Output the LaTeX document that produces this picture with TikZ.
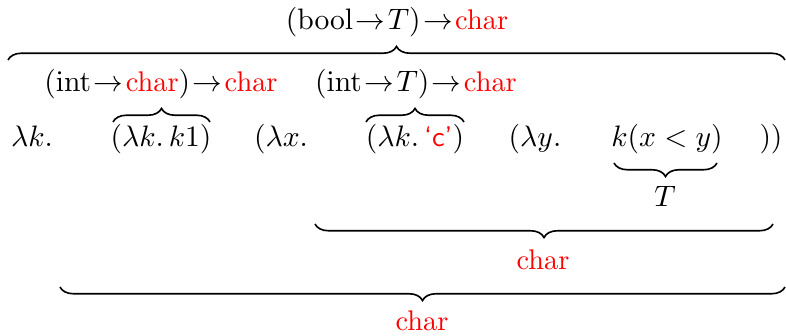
\documentclass[tikz,border=0pt]{standalone}
\usetikzlibrary{decorations.pathreplacing}
\tikzset{
  lbl/.style={anchor=base, inner sep=0pt, font=\fontsize{10.5}{12}\selectfont},
  brc/.style={decorate, decoration={brace, amplitude=5pt}, line width=0.6pt},
  brcd/.style={decorate, decoration={brace, amplitude=5pt, mirror}, line width=0.6pt},
}
\newcommand{\rc}[1]{\textcolor{red}{#1}}
\newcommand{\tar}{\mkern1.5mu\mathord{\to}\mkern1.5mu}
\begin{document}
\begin{tikzpicture}[x=0.37pt, y=-0.37pt]
\useasboundingbox (0,0) rectangle (786,336);
% row 1
\node[lbl] (t1) at (397,30) {$(\mathrm{bool}\tar T)\tar$\rc{char}};
% row 2
\node[lbl] (t2a) at (161,92) {$(\mathrm{int}\tar$\rc{char}$)\tar$\rc{char}};
\node[lbl] (t2b) at (416,92) {$(\mathrm{int}\tar T)\tar$\rc{char}};
% row 3
\node[lbl] (e1) at (32,147) {$\lambda k.$};
\node[lbl] (e2) at (161,147) {$(\lambda k.\,k1)$};
\node[lbl] (e3) at (281,147) {$(\lambda x.$};
\node[lbl] (e4) at (415,147) {$(\lambda k.\,$\rc{\textsf{`c'}}$)$};
\node[lbl] (e5) at (535,147) {$(\lambda y.$};
\node[lbl] (e6) at (667,147) {$k(x<y)$};
\node[lbl] (e7) at (771,147) {$))$};
% lower labels
\node[lbl] (tT) at (665,207) {$T$};
\node[lbl] (c1) at (543,270) {\rc{char}};
\node[lbl] (c2) at (422,331) {\rc{char}};
% brace end points
\coordinate (b1l) at (8,60);   \coordinate (b1r) at (785,60);
\coordinate (b2l) at (113,122); \coordinate (b2r) at (210,122);
\coordinate (b3l) at (366,122); \coordinate (b3r) at (464,122);
\coordinate (b4l) at (614,163); \coordinate (b4r) at (717,163);
\coordinate (b5l) at (315,224); \coordinate (b5r) at (773,224);
\coordinate (b6l) at (60,287);  \coordinate (b6r) at (785,287);
\draw[brc] (b1l) -- (b1r);
\draw[brc] (b2l) -- (b2r);
\draw[brc] (b3l) -- (b3r);
\draw[brcd] (b4l) -- (b4r);
\draw[brcd] (b5l) -- (b5r);
\draw[brcd] (b6l) -- (b6r);
\end{tikzpicture}
\end{document}
